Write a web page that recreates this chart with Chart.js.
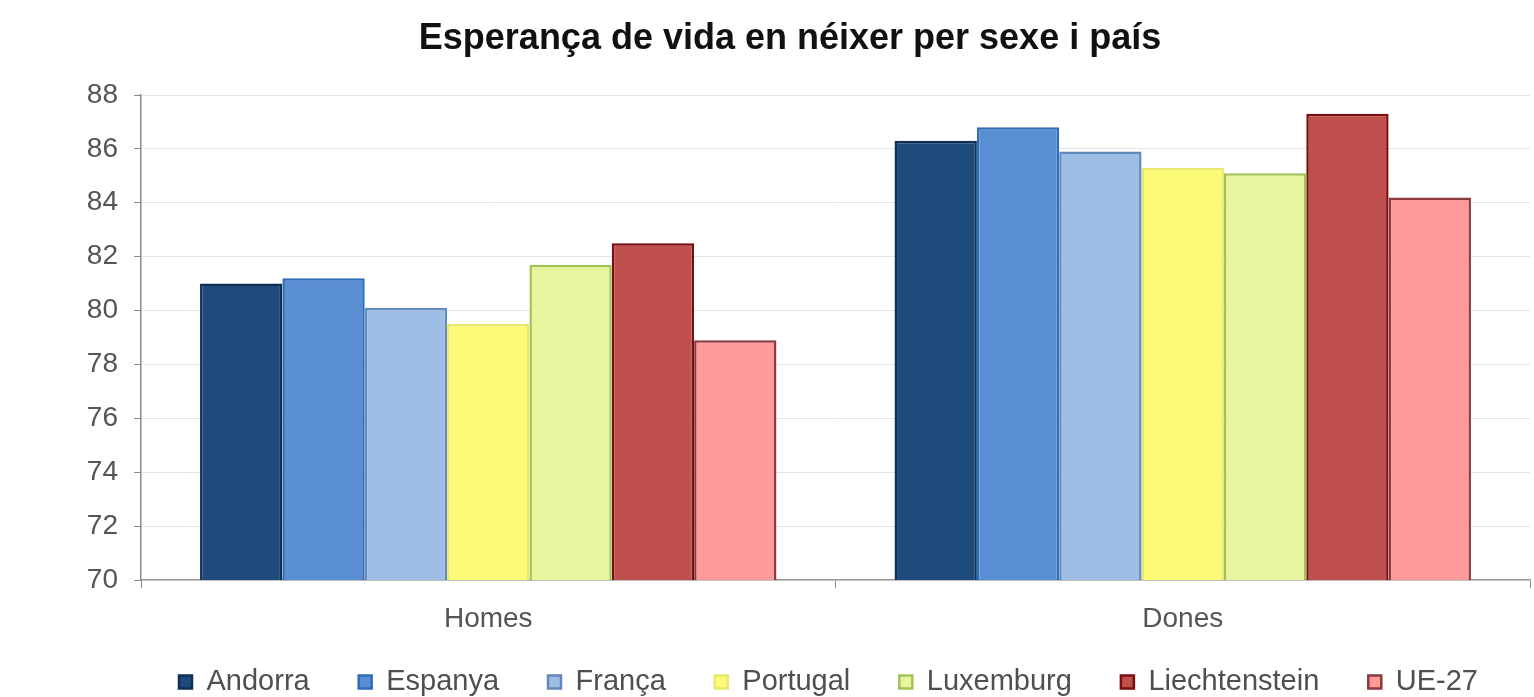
<!DOCTYPE html>
<html>
<head>
<meta charset="utf-8">
<script src="https://cdn.jsdelivr.net/npm/chart.js@4"></script>
<style>
  html, body { margin: 0; padding: 0; background: #ffffff; }
  #wrap { width: 1534px; height: 697px; }
</style>
</head>
<body>
<div id="wrap"><canvas id="c" width="1534" height="697"></canvas></div>
<script>
const categories = ['Homes', 'Dones'];
const seriesNames = ['Andorra', 'Espanya', 'França', 'Portugal', 'Luxemburg', 'Liechtenstein', 'UE-27'];
const andorra = [81.0, 86.3];
const espanya = [81.2, 86.8];
const franca = [80.1, 85.9];
const portugal = [79.5, 85.3];
const luxemburg = [81.7, 85.1];
const liechtenstein = [82.5, 87.3];
const ue27 = [78.9, 84.2];
const yMin = 70, yMax = 88, yStep = 2;

const fills = ['#1f4a7c', '#5a8ed3', '#9fbee6', '#fbfb78', '#e6f59e', '#c0504d', '#ff9a9a'];
const borders = ['#0f2f58', '#2f6db6', '#6289bb', '#e8e86a', '#a2c455', '#7a0e0e', '#8a3a3c'];
const values = [andorra, espanya, franca, portugal, luxemburg, liechtenstein, ue27];

const FONT = 'Liberation Sans, Arial, sans-serif';
const LEGEND_PAD = 49;

const datasets = seriesNames.map((name, i) => ({
  label: name,
  data: values[i],
  backgroundColor: fills[i],
  borderColor: borders[i],
  borderWidth: 2.5,
  categoryPercentage: 0.83,
  barPercentage: 1.0
}));

const legendPlace = {
  id: 'legendPlace',
  beforeLayout(chart) {
    const l = chart.legend;
    if (l && !l._patched) {
      const orig = l.fit;
      l.fit = function () { orig.call(this); this.height = 47.4; };
      l._patched = true;
    }
  },
  afterLayout(chart) {
    const l = chart.legend;
    if (!l || !l.lineWidths) return;
    const cx = (l.left + LEGEND_PAD + l.right - l.lineWidths[0]) / 2;
    const d = 179 - cx;
    l.left += d; l.right += d;
    l.top = 682 - LEGEND_PAD - 14.5;
    l.bottom = chart.height;
  }
};

new Chart(document.getElementById('c'), {
  type: 'bar',
  data: { labels: categories, datasets },
  plugins: [legendPlace],
  options: {
    responsive: false,
    animation: false,
    layout: { padding: { left: 50, right: 4, top: 0, bottom: 0 } },
    plugins: {
      title: {
        display: true,
        text: 'Esperança de vida en néixer per sexe i país',
        color: '#111111',
        font: { family: FONT, size: 36, weight: 'bold' },
        padding: { top: 17, bottom: 34.8 }
      },
      legend: {
        position: 'bottom',
        labels: {
          color: '#4f4f4f',
          font: { family: FONT, size: 29 },
          boxWidth: 13,
          boxHeight: 13,
          padding: LEGEND_PAD
        }
      },
      tooltip: { enabled: false }
    },
    scales: {
      x: {
        grid: { offset: true, drawOnChartArea: false, drawTicks: true, tickLength: 8, tickColor: '#8a8a8a', lineWidth: 1 },
        border: { color: '#9a9a9a', width: 1.5 },
        ticks: { color: '#555555', font: { family: FONT, size: 28 }, padding: 14 }
      },
      y: {
        min: yMin,
        max: yMax,
        afterFit(scale) { scale.width = 91; },
        grid: { color: '#e4e4e4', lineWidth: 1, drawTicks: true, tickLength: 7, tickColor: '#8a8a8a' },
        border: { color: '#8a8a8a', width: 1.5 },
        ticks: { stepSize: yStep, color: '#555555', font: { family: FONT, size: 28 }, padding: 16 }
      }
    }
  }
});
</script>
</body>
</html>
